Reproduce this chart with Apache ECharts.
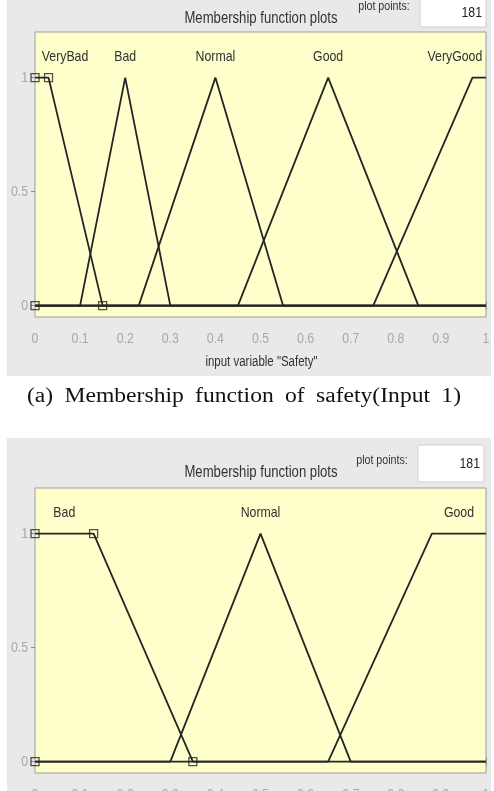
<!DOCTYPE html>
<html>
<head>
<meta charset="utf-8">
<script src="https://cdn.jsdelivr.net/npm/echarts@6/dist/echarts.min.js"></script>
<style>
html,body{margin:0;padding:0;background:#fff;}
#c{width:494px;height:791px;}
</style>
</head>
<body>
<div id="c"></div>
<script>
// ---- data ----
const xTicks = [0,0.1,0.2,0.3,0.4,0.5,0.6,0.7,0.8,0.9,1];
const xTickLabels = ['0','0.1','0.2','0.3','0.4','0.5','0.6','0.7','0.8','0.9','1'];
const yTicks = [0,0.5,1];
const yTickLabels = ['0','0.5','1'];

const safetyNames = ['VeryBad','Bad','Normal','Good','VeryGood'];
const safetyParams = [[0,0,0.03,0.15],[0.1,0.2,0.3],[0.23,0.4,0.55],[0.45,0.65,0.85],[0.75,0.97,1,1]];
const safetySelected = 0;

const input2Names = ['Bad','Normal','Good'];
const input2Params = [[0,0,0.13,0.35],[0.3,0.5,0.7],[0.65,0.88,1,1]];
const input2Selected = 0;

const plotPoints = '181';
const axisName1 = 'input variable "Safety"';
const panelTitle = 'Membership function plots';
const captionWords = ['(a)','Membership','function','of','safety(Input','1)'];

// ---- helpers ----
const SANS = "'Liberation Sans',Arial,sans-serif";
const SQ = 0.82; // horizontal squeeze to mimic the narrow MATLAB font
const LINE = '#252525';

function curve(p){
  const pts = [];
  if (p.length === 3){
    const [a,b,c] = p;
    if (a > 0) pts.push([0,0]);
    pts.push([a,0],[b,1],[c,0]);
    if (c < 1) pts.push([1,0]);
  } else {
    const [a,b,c,d] = p;
    if (a > 0) pts.push([0,0],[a,0]);
    pts.push([b,1],[c,1]);
    if (d > c) pts.push([d,0]);
    if (d < 1) pts.push([1,0]);
  }
  return pts;
}
function vertices(p){
  if (p.length === 3) return [[p[0],0],[p[1],1],[p[2],0]];
  return [[p[0],0],[p[1],1],[p[2],1],[p[3],0]];
}
function peakCenter(p){ return p.length === 3 ? p[1] : (p[1]+p[2])/2; }

function panelSeries(params, selected, gi){
  const s = [];
  params.forEach(p=>{
    s.push({type:'line', xAxisIndex:gi*2, yAxisIndex:gi*2, data:curve(p), symbol:'none',
      lineStyle:{color:LINE,width:1.8}, silent:true, animation:false, z:3});
  });
  s.push({type:'scatter', xAxisIndex:gi*2, yAxisIndex:gi*2, data:vertices(params[selected]),
    symbol:'rect', symbolSize:8, itemStyle:{color:'rgba(0,0,0,0)',borderColor:LINE,borderWidth:1.3},
    silent:true, animation:false, z:4});
  return s;
}

function axesFor(gi){
  const tick = {show:true, inside:true, length:4, lineStyle:{color:'#8a8a8a'}};
  const base = {type:'value', gridIndex:gi, min:0, max:1, splitLine:{show:false}, axisLine:{show:false}, axisLabel:{show:false}};
  const xb = Object.assign({}, base, {position:'bottom', axisTick:Object.assign({customValues:xTicks}, tick)});
  const xt = Object.assign({}, base, {position:'top', axisTick:Object.assign({customValues:xTicks}, tick)});
  const ybase = {type:'value', gridIndex:gi, min:-0.05, max:1.2, splitLine:{show:false}, axisLine:{show:false}, axisLabel:{show:false}};
  const yl = Object.assign({}, ybase, {position:'left', axisTick:Object.assign({customValues:yTicks}, tick)});
  const yr = Object.assign({}, ybase, {position:'right', axisTick:Object.assign({customValues:yTicks}, tick)});
  return {x:[xb,xt], y:[yl,yr]};
}

function txt(x, y, text, size, color, align, squeeze){
  return {type:'text', x:x, y:y, scaleX:squeeze, scaleY:1,
    style:{text:text, fill:color, font:size+'px '+SANS, textAlign:align, textVerticalAlign:'middle'}, z:6, silent:true};
}

const a0 = axesFor(0), a1 = axesFor(1);
const chart = echarts.init(document.getElementById('c'), null, {renderer:'canvas'});
chart.setOption({
  animation:false,
  backgroundColor:'#ffffff',
  grid:[
    {left:35, top:32, width:451, height:285, show:true, backgroundColor:'#ffffcc', borderColor:'#9c9c9c', borderWidth:1, z:1},
    {left:35, top:488, width:451, height:285, show:true, backgroundColor:'#ffffcc', borderColor:'#9c9c9c', borderWidth:1, z:1}
  ],
  xAxis:[a0.x[0], a0.x[1], a1.x[0], a1.x[1]],
  yAxis:[a0.y[0], a0.y[1], a1.y[0], a1.y[1]],
  series: panelSeries(safetyParams, safetySelected, 0).concat(panelSeries(input2Params, input2Selected, 1))
});

// ---- text placed through the axes' own scales ----
const els = [
  {type:'rect', shape:{x:7, y:0, width:484, height:376}, style:{fill:'#e9e9e9'}, z:-100, silent:true},
  {type:'rect', shape:{x:7, y:438, width:484, height:360}, style:{fill:'#e9e9e9'}, z:-100, silent:true}
];
function panelText(gi, names, params, headTop, boxTop, boxH, boxLeft, showName){
  const finder = {xAxisIndex:gi*2, yAxisIndex:gi*2};
  const px = (x,y)=>chart.convertToPixel(finder,[x,y]);
  const bottom = px(0,-0.05)[1];
  const left = px(0,0)[0];
  xTicks.forEach((v,k)=>{ const p = px(v,0); els.push(txt(p[0], bottom+21.5, xTickLabels[k], 15, '#a8a8a8', 'center', SQ)); });
  yTicks.forEach((v,k)=>{ const p = px(0,v); els.push(txt(left-7, p[1], yTickLabels[k], 15, '#a8a8a8', 'right', SQ)); });
  names.forEach((n,i)=>{
    const c = peakCenter(params[i]);
    const align = c < 0.05 ? 'left' : (c > 0.95 ? 'right' : 'center');
    const p = px(c, 1.09);
    els.push(txt(p[0] + (align==='right'?3:0), p[1], n, 15, '#303030', align, SQ));
  });
  els.push({type:'rect', shape:{x:boxLeft, y:boxTop, width:66, height:boxH}, style:{fill:'#ffffff', stroke:'#d0d0d0', lineWidth:1}, z:-50, silent:true});
  els.push(txt(boxLeft+62, boxTop+boxH/2, plotPoints, 15, '#222', 'right', SQ));
  els.push(txt(boxLeft-36, headTop+6, 'plot points:', 13, '#333', 'center', SQ));
  els.push(txt(261, headTop+19, panelTitle, 16, '#333', 'center', SQ));
  if (showName) els.push(txt((px(0,0)[0]+px(1,0)[0])/2 + 1, bottom+45, axisName1, 14, '#333', 'center', SQ));
}
panelText(0, safetyNames, safetyParams, 0, -1, 28, 420, true);
panelText(1, input2Names, input2Params, 454, 445, 37, 418, false);

// justified caption
const cv = document.createElement('canvas').getContext('2d');
const capFont = "20px 'Liberation Serif','Times New Roman',serif";
const capSX = 1.18;
cv.font = capFont;
const capL = 27, capR = 461;
const widths = captionWords.map(w=>cv.measureText(w).width*capSX);
const gap = (capR - capL - widths.reduce((a,b)=>a+b,0)) / (captionWords.length-1);
let cx = capL;
captionWords.forEach((w,i)=>{
  els.push({type:'text', x:cx, y:397, scaleX:capSX, style:{text:w, font:capFont, fill:'#111', textVerticalAlign:'middle', textAlign:'left'}, z:10, silent:true});
  cx += widths[i] + gap;
});

chart.setOption({graphic:{elements:els}});
</script>
</body>
</html>
